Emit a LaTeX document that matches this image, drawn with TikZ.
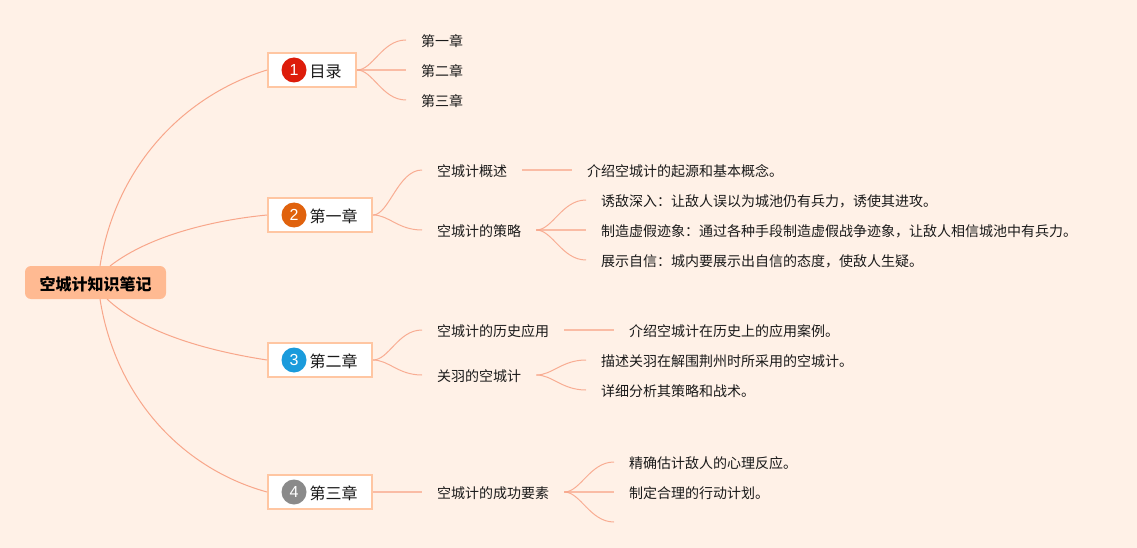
\documentclass[tikz,border=0pt]{standalone}
\usepackage{fontspec}
\setmainfont{Noto Sans CJK SC}
\newfontfamily\digitfont{Liberation Sans}
\definecolor{pagebg}{HTML}{FFF1E7}
\definecolor{rootfill}{HTML}{FFBA92}
\definecolor{boxline}{HTML}{FFC6A2}
\definecolor{linkline}{HTML}{F8A68A}
\definecolor{inktext}{HTML}{1A1A1A}
\tikzset{
  rootnode/.style={fill=rootfill,rounded corners=6pt,inner sep=0pt,minimum height=33pt,minimum width=141pt,text height=15.6pt,text depth=0.4pt,font=\fontsize{16}{16}\selectfont\bfseries,text=black},
  chapter/.style={draw=boxline,line width=1.7pt,fill=white,anchor=west,inner xsep=14.65pt,inner ysep=0pt,minimum height=33.6pt,text height=15.6pt,text depth=0.4pt,font=\fontsize{16}{16}\selectfont,text=inktext},
  badge/.style={circle,minimum size=25pt,inner sep=0pt,text=white,font=\digitfont\fontsize{16}{16}\selectfont},
  leaf/.style={anchor=west,inner xsep=15pt,inner ysep=0pt,minimum height=20pt,text height=13.5pt,text depth=0.9pt,font=\fontsize{14}{14}\selectfont,text=inktext},
  link/.style={draw=linkline,line width=1pt},
  branch/.style={draw=linkline,line width=1pt,opacity=.9},
  stem/.style={draw=linkline,line width=1.4pt,opacity=.7},
}
\newcommand{\ptxt}{\hspace{27pt}}
\begin{document}
\begin{tikzpicture}[x=1pt,y=-1pt]
\useasboundingbox (0,0) rectangle (1137,548);
\fill[pagebg] (0,0) rectangle (1137,548);

\node[rootnode] (root) at (95.5,282.5) {空城计知识笔记};

\node[chapter] (c1) at (267,70) {\ptxt 目录};
\node[chapter] (c2) at (267,215) {\ptxt 第一章};
\node[chapter] (c3) at (267,360) {\ptxt 第二章};
\node[chapter] (c4) at (267,492) {\ptxt 第三章};
\node[badge,fill={rgb,255:red,221;green,28;blue,10}] (b1) at (294,70) {1};
\node[badge,fill={rgb,255:red,224;green,98;blue,13}] (b2) at (294,215) {2};
\node[badge,fill={rgb,255:red,26;green,155;blue,220}] (b3) at (294,360) {3};
\node[badge,fill={rgb,255:red,138;green,138;blue,138}] (b4) at (294,492) {4};

\node[leaf] (a1) at (406,40) {第一章};
\node[leaf] (a2) at (406,70) {第二章};
\node[leaf] (a3) at (406,100) {第三章};

\node[leaf] (d1) at (422,170) {空城计概述};
\node[leaf] (d2) at (422,230) {空城计的策略};
\node[leaf] (d11) at (572,170) {介绍空城计的起源和基本概念。};
\node[leaf] (d21) at (586,200) {诱敌深入：让敌人误以为城池仍有兵力，诱使其进攻。};
\node[leaf] (d22) at (586,230) {制造虚假迹象：通过各种手段制造虚假战争迹象，让敌人相信城池中有兵力。};
\node[leaf] (d23) at (586,260) {展示自信：城内要展示出自信的态度，使敌人生疑。};

\node[leaf] (e1) at (422,330) {空城计的历史应用};
\node[leaf] (e2) at (422,375) {关羽的空城计};
\node[leaf] (e11) at (614,330) {介绍空城计在历史上的应用案例。};
\node[leaf] (e21) at (586,360) {描述关羽在解围荆州时所采用的空城计。};
\node[leaf] (e22) at (586,390) {详细分析其策略和战术。};

\node[leaf] (f1) at (422,492) {空城计的成功要素};
\node[leaf] (f11) at (614,462) {精确估计敌人的心理反应。};
\node[leaf] (f12) at (614,492) {制定合理的行动计划。};
\coordinate (f13) at (614,522);

\coordinate (r1) at (100,266);
\coordinate (r2) at (110,266);
\coordinate (r3) at (107,299);
\coordinate (r4) at (100,299);
\draw[link] (r1) .. controls (115,170) and (180,97) .. (c1.west);
\draw[link] (r2) .. controls (150,235) and (215,220) .. (c2.west);
\draw[link] (r3) .. controls (145,335) and (215,352) .. (c3.west);
\draw[link] (r4) .. controls (115,395) and (180,468) .. (c4.west);

\foreach \p/\q in {c1/a1,c1/a3,c2/d1,c2/d2,c3/e1,c3/e2,d2/d21,d2/d23,e2/e21,e2/e22,f1/f11}
  \draw[branch] (\p.east) .. controls +(16,0) and +(-24,0) .. (\q.west);
\draw[branch] (f1.east) .. controls +(16,0) and +(-24,0) .. (f13);
\foreach \p/\q in {c1/a2,d2/d22,f1/f12,d1/d11,e1/e11,c4/f1}
  \draw[stem] (\p.east) -- (\q.west);
\end{tikzpicture}
\end{document}
